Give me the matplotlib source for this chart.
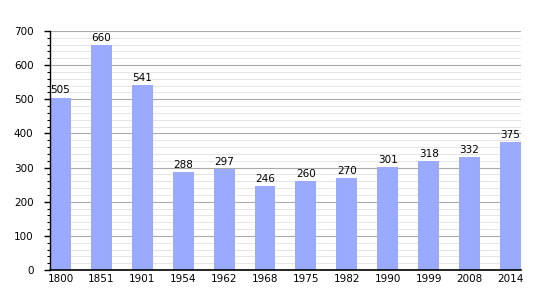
import matplotlib.pyplot as plt
import numpy as np

years = ['1800', '1851', '1901', '1954', '1962', '1968', '1975', '1982', '1990', '1999', '2008', '2014']
population = [505, 660, 541, 288, 297, 246, 260, 270, 301, 318, 332, 375]

fig = plt.figure(figsize=(5.5, 3), dpi=100)
ax = fig.add_axes([0.091, 0.1, 0.856, 0.797])

x = np.arange(len(years))
ax.bar(x, population, width=0.51, color='#99aaff', zorder=2)
for xi, v in zip(x, population):
    ax.text(xi, v + 6, str(v), ha='center', va='bottom', fontsize=7.5, zorder=3)

ax.set_xlim(-0.255, len(years) - 0.745)
ax.set_ylim(0, 700)
ax.set_xticks(x)
ax.set_xticklabels(years, fontsize=7.5)
ax.set_yticks(np.arange(0, 701, 100))
ax.set_yticks(np.arange(0, 701, 20), minor=True)
ax.tick_params(axis='y', labelsize=7.5, direction='out', length=4, width=1, pad=8)
ax.tick_params(axis='y', which='minor', direction='out', length=2, width=0.8)
ax.tick_params(axis='x', length=0, pad=3)

ax.grid(axis='y', which='major', color='#aaaaaa', linewidth=0.8, zorder=0)
ax.grid(axis='y', which='minor', color='#e0e0e0', linewidth=0.6, zorder=0)
ax.set_axisbelow(True)

for s in ['top', 'right']:
    ax.spines[s].set_visible(False)
ax.spines['left'].set_linewidth(1)
ax.spines['bottom'].set_linewidth(1.2)

fig.savefig('out.png', dpi=100)
